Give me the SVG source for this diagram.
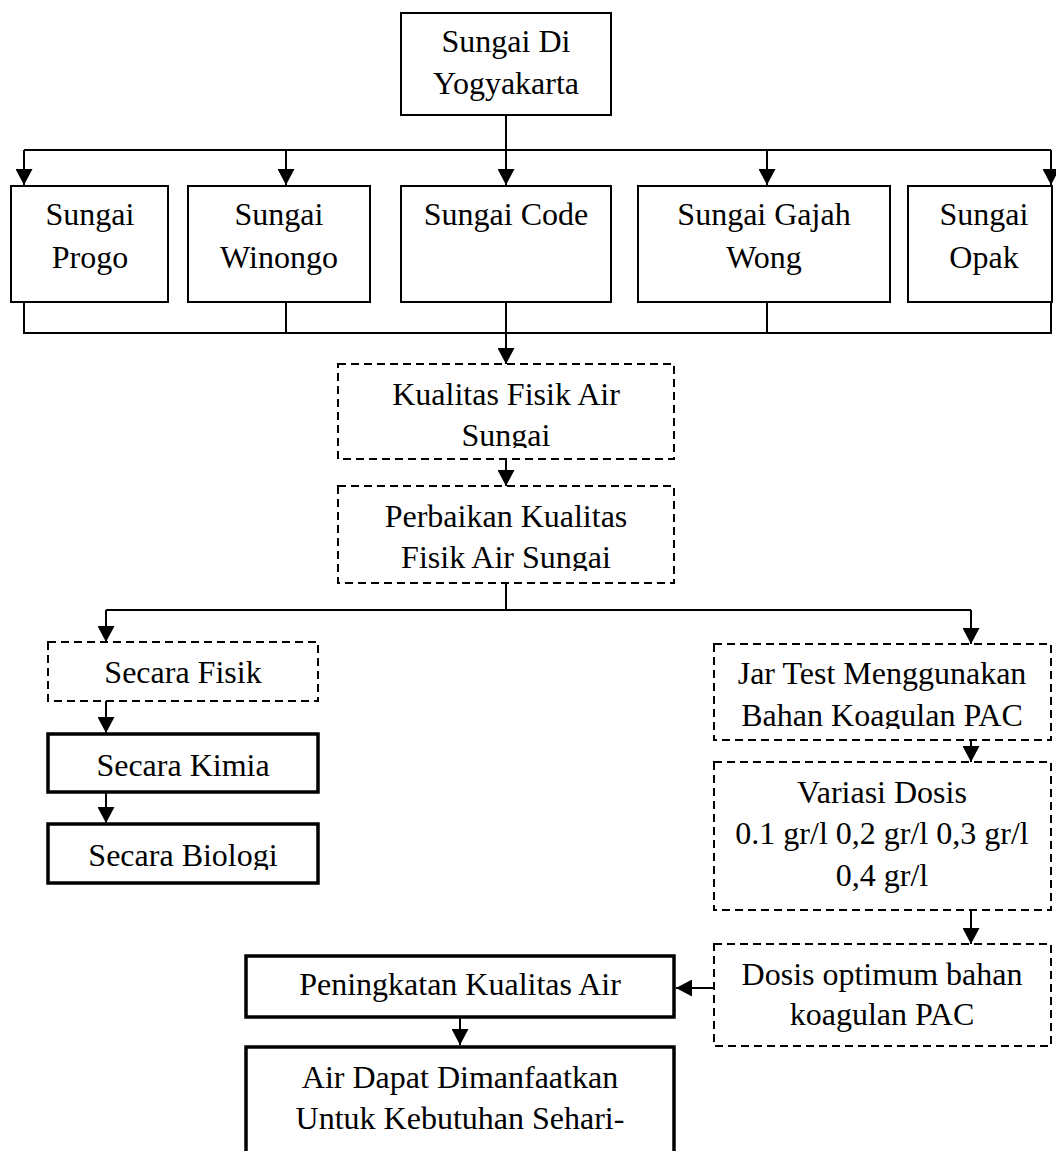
<svg xmlns="http://www.w3.org/2000/svg" width="1056" height="1151" viewBox="0 0 1056 1151">
<style>
text{font-family:"Liberation Serif","Times New Roman",serif;font-size:32px;fill:#000;text-anchor:middle}
.b{fill:#fff;stroke:#000;stroke-width:2}
.d{fill:#fff;stroke:#000;stroke-width:2;stroke-dasharray:8 5}
.t{fill:#fff;stroke:#000;stroke-width:3.5}
.c{fill:none;stroke:#000;stroke-width:2}
</style>
<defs>
<marker id="ah" markerUnits="userSpaceOnUse" markerWidth="16" markerHeight="17" refX="16" refY="8.5" orient="auto">
<path d="M0,0 L16,8.5 L0,17 z" fill="#000"/>
</marker>
<clipPath id="cK"><rect x="338" y="364" width="336" height="84"/></clipPath>
<clipPath id="cP"><rect x="338" y="486" width="336" height="85"/></clipPath>
<clipPath id="cJ"><rect x="714" y="644" width="337" height="85"/></clipPath>
<clipPath id="cB"><rect x="47" y="824" width="272" height="46"/></clipPath>
</defs>
<g id="connectors">
<path class="c" d="M506,115 V150 M24,150 H1051"/>
<path class="c" d="M24,150 V185" marker-end="url(#ah)"/>
<path class="c" d="M286,150 V185" marker-end="url(#ah)"/>
<path class="c" d="M506,150 V185" marker-end="url(#ah)"/>
<path class="c" d="M767,150 V185" marker-end="url(#ah)"/>
<path class="c" d="M1051,150 V185" marker-end="url(#ah)"/>
<path class="c" d="M24,302 V333 H1051 V302 M286,302 V333 M767,302 V333"/>
<path class="c" d="M506,302 V364" marker-end="url(#ah)"/>
<path class="c" d="M506,459 V486" marker-end="url(#ah)"/>
<path class="c" d="M506,583 V610 M106,610 H971"/>
<path class="c" d="M106,610 V642" marker-end="url(#ah)"/>
<path class="c" d="M971,610 V644" marker-end="url(#ah)"/>
<path class="c" d="M106,701 V733" marker-end="url(#ah)"/>
<path class="c" d="M106,792 V823" marker-end="url(#ah)"/>
<path class="c" d="M971,740 V762" marker-end="url(#ah)"/>
<path class="c" d="M971,910 V944" marker-end="url(#ah)"/>
<path class="c" d="M714,988 H676" marker-end="url(#ah)"/>
<path class="c" d="M460,1017 V1045" marker-end="url(#ah)"/>
</g>
<g id="n-root"><rect class="b" x="401" y="13" width="210" height="102"/><text x="506" y="52">Sungai Di</text><text x="506" y="94">Yogyakarta</text></g>
<g id="n-progo"><rect class="b" x="11" y="186" width="157" height="116"/><text x="90" y="225">Sungai</text><text x="90" y="268">Progo</text></g>
<g id="n-winongo"><rect class="b" x="188" y="186" width="182" height="116"/><text x="279" y="225">Sungai</text><text x="279" y="268">Winongo</text></g>
<g id="n-code"><rect class="b" x="401" y="186" width="210" height="116"/><text x="506" y="225">Sungai Code</text></g>
<g id="n-gajah"><rect class="b" x="638" y="186" width="252" height="116"/><text x="764" y="225">Sungai Gajah</text><text x="764" y="268">Wong</text></g>
<g id="n-opak"><rect class="b" x="908" y="186" width="144" height="116"/><text x="984" y="225">Sungai</text><text x="984" y="268">Opak</text></g>
<g id="n-kualitas"><rect class="d" x="338" y="364" width="336" height="95"/><g clip-path="url(#cK)"><text x="506" y="405">Kualitas Fisik Air</text><text x="506" y="446">Sungai</text></g></g>
<g id="n-perbaikan"><rect class="d" x="338" y="486" width="336" height="97"/><g clip-path="url(#cP)"><text x="506" y="527">Perbaikan Kualitas</text><text x="506" y="568">Fisik Air Sungai</text></g></g>
<g id="n-fisik"><rect class="d" x="48" y="642" width="270" height="59"/><text x="183" y="683">Secara Fisik</text></g>
<g id="n-kimia"><rect class="t" x="48" y="734" width="270" height="58"/><text x="183" y="776">Secara Kimia</text></g>
<g id="n-biologi"><rect class="t" x="48" y="824" width="270" height="59"/><g clip-path="url(#cB)"><text x="183" y="866">Secara Biologi</text></g></g>
<g id="n-jar"><rect class="d" x="714" y="644" width="337" height="96"/><g clip-path="url(#cJ)"><text x="882" y="684">Jar Test Menggunakan</text><text x="882" y="726">Bahan Koagulan PAC</text></g></g>
<g id="n-variasi"><rect class="d" x="714" y="762" width="337" height="148"/><text x="882" y="803">Variasi Dosis</text><text x="882" y="844">0.1 gr/l 0,2 gr/l 0,3 gr/l</text><text x="882" y="886">0,4 gr/l</text></g>
<g id="n-dosis"><rect class="d" x="714" y="944" width="337" height="102"/><text x="882" y="985">Dosis optimum bahan</text><text x="882" y="1025">koagulan PAC</text></g>
<g id="n-peningkatan"><rect class="t" x="246" y="956" width="428" height="61"/><text x="460" y="995">Peningkatan Kualitas Air</text></g>
<g id="n-air"><rect class="t" x="246" y="1047" width="428" height="120"/><text x="460" y="1088">Air Dapat Dimanfaatkan</text><text x="460" y="1129">Untuk Kebutuhan Sehari-</text></g>
</svg>
